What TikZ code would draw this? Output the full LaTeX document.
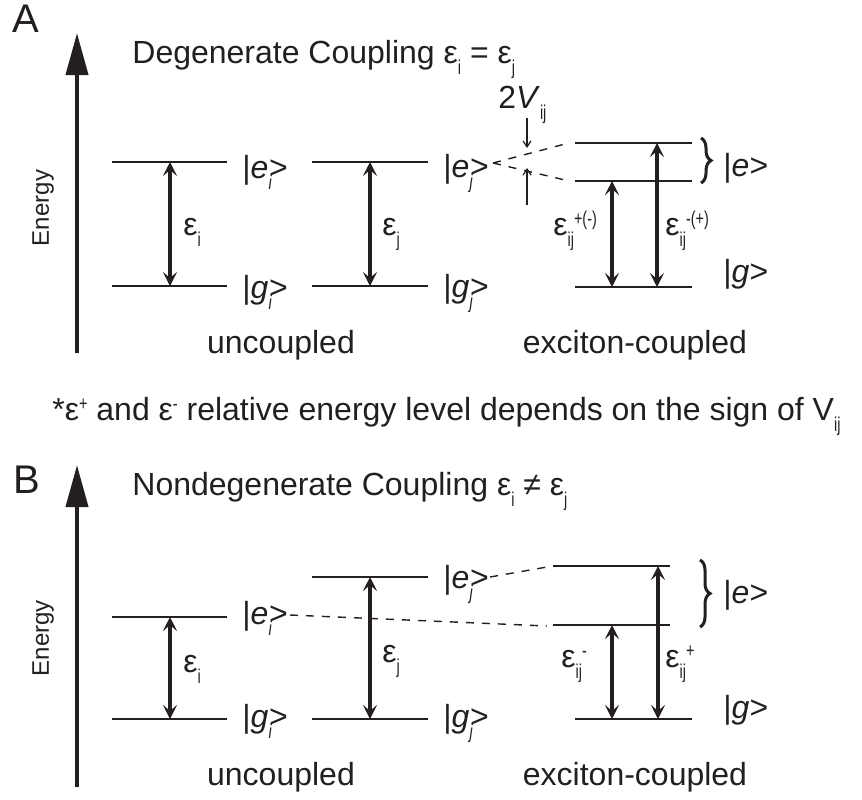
\documentclass[tikz,border=0pt]{standalone}
\usepackage{fontspec}
\usepackage{graphicx}
\setmainfont{Liberation Sans}
\usetikzlibrary{arrows.meta, decorations.pathreplacing, positioning}
\definecolor{cInk}{RGB}{35,31,32}
% narrow lowered / raised indices
\newcommand{\lsub}[1]{\raisebox{-5.5pt}{\scalebox{0.72}[1]{\fontsize{10}{12}\selectfont #1}}}
\newcommand{\lsup}[1]{\raisebox{5pt}{\scalebox{0.72}[1]{\fontsize{10}{12}\selectfont #1}}}
\tikzset{
	level/.style  ={line width=1pt, cInk},
	trans/.style  ={{Stealth[length=7pt, width=7pt, inset=3pt]}-{Stealth[length=7pt, width=7pt, inset=3pt]}, line width=2.1pt, cInk},
	axis/.style   ={-{Triangle[length=21pt, width=11pt]}, line width=2pt, cInk},
	coup/.style   ={dash pattern=on 4pt off 4pt, line width=0.7pt, cInk},
	gap/.style    ={-{Straight Barb[length=3pt, width=4pt]}, line width=0.6pt, cInk},
	brc/.style    ={decorate, decoration={brace, amplitude=5pt}, line width=1.5pt, cInk},
	% text styles
	txt/.style    ={anchor=base west, inner sep=0pt, text=cInk},
	ctxt/.style   ={anchor=base, inner sep=0pt, text=cInk},
	panel/.style  ={txt, font=\fontsize{20}{24}\selectfont},
	axlbl/.style  ={inner sep=0pt, text=cInk, rotate=90, font=\fontsize{12}{14}\selectfont},
}

\begin{document}
\begin{tikzpicture}[x=0.5pt, y=-0.5pt, font=\fontsize{16}{19}\selectfont]
	\useasboundingbox (0,0) rectangle (862,799);
	% ---------------- panel A: degenerate
	\node[panel] (labA) at (12,32) {A};
	\coordinate (Abot) at (77,353);
	\coordinate (Atop) at (77,33);
	\draw[axis] (Abot) -- (Atop);
	\node[axlbl] (enA) at (43,208) {Energy};
	\node[txt] (titA) at (132,63) {Degenerate Coupling ε\lsub{i} = ε\lsub{j}};
	% uncoupled levels
	\draw[level] (112,162) -- (227,162);
	\draw[level] (112,286) -- (227,286);
	\draw[level] (312,162) -- (428,162);
	\draw[level] (312,286) -- (428,286);
	\coordinate (Aei) at (170,162); \coordinate (Agi) at (170,286);
	\coordinate (Aej) at (370,162); \coordinate (Agj) at (370,286);
	\draw[trans] (Aei) -- (Agi);
	\draw[trans] (Aej) -- (Agj);
	\node[txt] (ketAei) at (242,178) {|\textit{e}\lsub{\textit{i}}\kern-1.5pt>};
	\node[txt] (ketAgi) at (242,298) {|\textit{g}\lsub{\textit{i}}\kern-1.5pt>};
	\node[txt] (ketAej) at (443,177) {|\textit{e}\lsub{\textit{j}}\kern-1.5pt>};
	\node[txt] (ketAgj) at (443,297) {|\textit{g}\lsub{\textit{j}}\kern-1.5pt>};
	\node[txt] (epsAi) at (183,235) {ε\lsub{i}};
	\node[txt] (epsAj) at (382,235) {ε\lsub{j}};
	% exciton levels
	\draw[level] (575,143) -- (692,143);
	\draw[level] (575,181) -- (692,181);
	\draw[level] (575,287) -- (692,287);
	\coordinate (Asplit) at (493,163);
	\coordinate (Aup) at (565,144);
	\coordinate (Alo) at (565,180);
	\draw[coup] (Asplit) -- (Aup);
	\draw[coup] (Asplit) -- (Alo);
	\coordinate (Ae1) at (612,181); \coordinate (Ag1) at (612,287);
	\coordinate (Ae2) at (657,143); \coordinate (Ag2) at (657,287);
	\draw[trans] (Ae1) -- (Ag1);
	\draw[trans] (Ae2) -- (Ag2);
	\node[txt] (epsA1) at (553,235) {ε\lsub{ij}\lsup{+(-)}};
	\node[txt] (epsA2) at (665,235) {ε\lsub{ij}\lsup{-(+)}};
	% splitting 2V
	\node[txt] (twoV) at (498,108) {2\textit{V}\lsub{ij}};
	\coordinate (gapT) at (527,118); \coordinate (gapTe) at (527,148);
	\coordinate (gapB) at (527,205); \coordinate (gapBe) at (527,168);
	\draw[gap] (gapT) -- (gapTe);
	\draw[gap] (gapB) -- (gapBe);
	\draw[brc] (701,138) -- (701,183);
	\node[txt] (ketAe) at (723,176) {|\textit{e}>};
	\node[txt] (ketAg) at (723,282) {|\textit{g}>};
	\node[ctxt] (uncA) at (281,353) {uncoupled};
	\node[ctxt] (excA) at (635,353) {exciton-coupled};
	% footnote
	\node[txt] (note) at (52,420) {*ε\lsup{+} and ε\lsup{-} relative energy level depends on the sign of V\lsub{ij}};
	% ---------------- panel B: nondegenerate
	\node[panel] (labB) at (13,493) {B};
	\coordinate (Bbot) at (77,787);
	\coordinate (Btop) at (77,465);
	\draw[axis] (Bbot) -- (Btop);
	\node[axlbl] (enB) at (43,638) {Energy};
	\node[txt] (titB) at (132,495) {Nondegenerate Coupling ε\lsub{i} ≠ ε\lsub{j}};
	% uncoupled levels
	\draw[level] (112,617) -- (227,617);
	\draw[level] (112,719) -- (227,719);
	\draw[level] (312,577) -- (428,577);
	\draw[level] (312,719) -- (428,719);
	\coordinate (Bei) at (170,617); \coordinate (Bgi) at (170,719);
	\coordinate (Bej) at (370,577); \coordinate (Bgj) at (370,719);
	\draw[trans] (Bei) -- (Bgi);
	\draw[trans] (Bej) -- (Bgj);
	\node[txt] (ketBei) at (242,624) {|\textit{e}\lsub{\textit{i}}\kern-1.5pt>};
	\node[txt] (ketBgi) at (242,727) {|\textit{g}\lsub{\textit{i}}\kern-1.5pt>};
	\node[txt] (ketBej) at (443,588) {|\textit{e}\lsub{\textit{j}}\kern-1.5pt>};
	\node[txt] (ketBgj) at (443,727) {|\textit{g}\lsub{\textit{j}}\kern-1.5pt>};
	\node[txt] (epsBi) at (183,672) {ε\lsub{i}};
	\node[txt] (epsBj) at (382,662) {ε\lsub{j}};
	% exciton levels
	\draw[level] (553,566) -- (670,566);
	\draw[level] (553,625) -- (670,625);
	\draw[level] (575,719) -- (692,719);
	\coordinate (BjL) at (490,577); \coordinate (BjR) at (547,567);
	\coordinate (BiL) at (290,615); \coordinate (BiR) at (547,626);
	\draw[coup] (BjL) -- (BjR);
	\draw[coup] (BiL) -- (BiR);
	\coordinate (Be1) at (612,625); \coordinate (Bg1) at (612,719);
	\coordinate (Be2) at (658,566); \coordinate (Bg2) at (658,719);
	\draw[trans] (Be1) -- (Bg1);
	\draw[trans] (Be2) -- (Bg2);
	\node[txt] (epsB1) at (561,667) {ε\lsub{ij}\lsup{-}};
	\node[txt] (epsB2) at (665,667) {ε\lsub{ij}\lsup{+}};
	\draw[brc] (700,560) -- (700,627);
	\node[txt] (ketBe) at (723,603) {|\textit{e}>};
	\node[txt] (ketBg) at (723,718) {|\textit{g}>};
	\node[ctxt] (uncB) at (281,785) {uncoupled};
	\node[ctxt] (excB) at (635,785) {exciton-coupled};
\end{tikzpicture}
\end{document}
